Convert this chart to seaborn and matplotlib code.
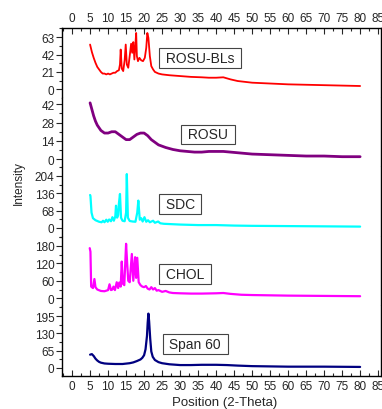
import pandas as pd
import matplotlib
matplotlib.use("Agg")
import matplotlib.pyplot as plt
from matplotlib.ticker import AutoMinorLocator
import seaborn as sns

# XRD patterns (2-theta, intensity)
rosu_bls_x = [5.0, 5.5, 6.0, 6.5, 7.0, 7.5, 8.0, 8.5, 9.0, 9.5, 10.0, 10.5, 11.0, 11.5, 12.0, 12.5, 13.0,
              13.3, 13.5, 13.8, 14.2, 14.6, 14.9, 15.2, 15.6, 16.0, 16.4, 16.7, 17.0, 17.3, 17.6, 17.8,
              18.0, 18.3, 18.7, 19.2, 19.7, 20.2, 20.6, 20.9, 21.2, 21.6, 22.0, 22.5, 23.0, 24.0, 25.0,
              27, 30, 33, 36, 38, 40, 42, 44, 46, 48, 50, 55, 60, 65, 70, 75, 80]
rosu_bls_y = [54, 45, 38, 32, 27, 24, 21, 19, 19, 18, 19, 18, 19, 20, 20, 22, 23,
              30, 48, 25, 22, 35, 54, 30, 26, 40, 55, 44, 57, 36, 55, 68,
              40, 34, 38, 35, 34, 38, 50, 68, 62, 40, 28, 24, 21, 19, 18,
              17, 16, 15, 14.5, 14, 14, 14.5, 12, 10, 9, 8, 7, 6, 5.5, 5, 4.5, 4]

rosu_x = [5, 5.5, 6, 6.5, 7, 7.5, 8, 8.5, 9, 10, 11, 12, 13, 14, 15, 16, 17, 18, 19, 20, 21, 22, 23,
          24, 25, 26, 28, 30, 32, 34, 36, 38, 40, 42, 44, 46, 50, 55, 60, 65, 70, 75, 80]
rosu_y = [43, 38, 33, 29, 26, 24, 22, 21, 20, 20, 21, 21, 19, 17, 15, 15, 17, 19, 20, 20, 18, 15, 13,
          11, 10, 9, 7.5, 6.5, 6, 5.5, 5.5, 6, 6, 6, 5.5, 5, 4, 3.5, 3, 2.5, 2.5, 2, 2]

sdc_x = [5.0, 5.1, 5.4, 5.8, 6.5, 7.5, 8.2, 8.6, 9.0, 9.5, 9.9, 10.3, 10.8, 11.2, 11.6, 12.0, 12.2,
         12.5, 12.8, 13.0, 13.3, 13.6, 14.0, 14.6, 15.0, 15.2, 15.5, 16.0, 16.8, 17.6, 18.1, 18.4,
         18.8, 19.2, 19.6, 20.1, 20.6, 21.1, 21.6, 22.5, 23.0, 23.9, 24.5, 25.5, 27, 30, 35, 40, 45,
         50, 60, 70, 80]
sdc_y = [129, 125, 60, 38, 30, 24, 22, 28, 22, 32, 24, 33, 26, 42, 28, 45, 87,
         40, 50, 95, 133, 40, 28, 26, 60, 211, 40, 27, 25, 24, 60, 107,
         32, 38, 25, 42, 24, 30, 22, 28, 20, 25, 18, 16, 15, 13, 11, 11, 9,
         8, 7, 6, 5]

chol_x = [4.9, 5.1, 5.3, 5.8, 6.2, 6.5, 7, 8, 9, 10, 10.4, 10.8, 11.2, 11.5, 11.9, 12.4, 12.8, 13.1,
          13.5, 13.8, 14.1, 14.5, 15.0, 15.3, 15.6, 16.0, 16.6, 17.0, 17.5, 17.8, 18.1, 18.5, 19,
          19.5, 20, 20.5, 21, 21.5, 22, 22.5, 23, 23.5, 24, 25, 26, 27, 28, 30, 33, 36, 40, 42, 44,
          47, 50, 55, 60, 70, 80]
chol_y = [172, 160, 40, 35, 66, 38, 30, 25, 24, 28, 48, 28, 30, 40, 28, 55, 35, 54,
          40, 126, 50, 45, 187, 120, 60, 55, 152, 60, 141, 70, 139, 55, 45,
          40, 38, 42, 33, 30, 38, 30, 35, 26, 28, 22, 25, 20, 18, 17, 16, 16, 17, 18, 15,
          12, 11, 10, 9, 8, 7]

span_x = [5.0, 5.5, 6.0, 6.5, 7.0, 7.5, 8.0, 9.0, 10, 12, 14, 16, 17, 18, 19, 19.5, 20.0, 20.4, 20.8,
          21.0, 21.2, 21.4, 21.7, 22.0, 22.4, 23.0, 24.0, 25.0, 27, 30, 33, 36, 40, 43, 46, 50, 55,
          60, 70, 80]
span_y = [50, 52, 45, 35, 28, 23, 20, 17, 16, 15, 15, 18, 21, 26, 32, 38, 48, 70, 120,
          170, 204, 175, 110, 62, 42, 30, 22, 18, 14, 11, 11, 12, 12, 11, 9, 7, 6,
          5, 5, 4]

names = ["ROSU-BLs", "ROSU", "SDC", "CHOL", "Span 60"]
colors = ["#ff0000", "#800080", "#00ffff", "#ff00ff", "#000080"]
widths = [1.3, 2.0, 1.6, 1.6, 1.6]
yticks = [[0, 21, 42, 63], [0, 14, 28, 42], [0, 68, 136, 204], [0, 60, 120, 180], [0, 65, 130, 195]]
ylims = [(-10, 74), (-6, 47), (-35, 238), (-28, 211), (-30, 231)]
label_pos = [(35.6, 38), (37.8, 19), (30.0, 94), (31.4, 83), (34.2, 91)]
xticks = list(range(0, 90, 5))

series = [(rosu_bls_x, rosu_bls_y), (rosu_x, rosu_y), (sdc_x, sdc_y), (chol_x, chol_y), (span_x, span_y)]

sns.set_style("ticks")
plt.rcParams["font.family"] = ["Liberation Sans", "DejaVu Sans"]

fig, axes = plt.subplots(5, 1, sharex=True, figsize=(3.82, 4.10), dpi=100,
                         gridspec_kw={"hspace": 0})
fig.subplots_adjust(left=62 / 382, right=381 / 382, top=1 - 29 / 410, bottom=1 - 377 / 410)

for i, ax in enumerate(axes):
    df = pd.DataFrame({"x": series[i][0], "y": series[i][1]})
    sns.lineplot(data=df, x="x", y="y", ax=ax, color=colors[i], linewidth=widths[i])
    ax.set_ylim(*ylims[i])
    ax.set_yticks(yticks[i])
    ax.yaxis.set_minor_locator(AutoMinorLocator(2))
    ax.set_xlabel("")
    ax.set_ylabel("")
    # boxed sample name, a bit wider than the text like the original
    ax.text(label_pos[i][0], label_pos[i][1], " " + names[i] + " ", ha="center", va="center", fontsize=10,
            bbox=dict(boxstyle="square,pad=0.2", facecolor="white", edgecolor="#444444", linewidth=0.8))
    ax.tick_params(axis="y", which="major", direction="out", length=4, width=0.8, pad=1.5,
                   labelsize=8.5, right=True)
    ax.tick_params(axis="y", which="minor", direction="out", length=2, width=0.8, right=True)
    ax.tick_params(axis="y", which="both", labelright=False)
    for side in ["left", "right", "top", "bottom"]:
        ax.spines[side].set_linewidth(1.0)
        ax.spines[side].set_color("black")
    if i > 0:
        ax.spines["top"].set_visible(False)
    if i < 4:
        ax.spines["bottom"].set_visible(False)
    ax.tick_params(axis="x", which="both", top=False, bottom=False, labeltop=False, labelbottom=False)

axes[0].set_xlim(-2.8, 85.8)
axes[0].set_xticks(xticks)
axes[0].xaxis.set_minor_locator(AutoMinorLocator(2))

axes[0].tick_params(axis="x", which="both", top=True, labeltop=True, direction="in", labelsize=8.5, pad=3)
axes[0].tick_params(axis="x", which="major", length=4, width=0.8)
axes[0].tick_params(axis="x", which="minor", length=2, width=0.8)
axes[4].tick_params(axis="x", which="both", bottom=True, labelbottom=True, direction="in", labelsize=8.5, pad=3)
axes[4].tick_params(axis="x", which="major", length=4, width=0.8)
axes[4].tick_params(axis="x", which="minor", length=2, width=0.8)

fig.text(225 / 382, 1 - 403 / 410, "Position (2-Theta)", ha="center", va="center", fontsize=9.5)
fig.text(19 / 382, 1 - 183 / 410, "Intensity", ha="center", va="center", rotation=90, fontsize=8.5)

fig.savefig("out.png", dpi=100)
